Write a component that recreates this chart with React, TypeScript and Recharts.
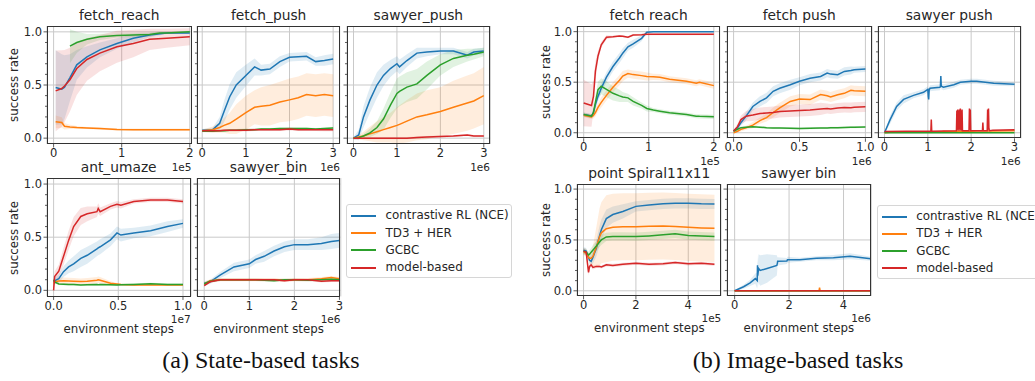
import React from 'react';
import { ComposedChart, Line, Area, XAxis, YAxis, CartesianGrid } from 'recharts';

const METHODS = ['contrastive RL (NCE)', 'TD3 + HER', 'GCBC', 'model-based'];
const COLORS = ['#1f77b4', '#ff7f0e', '#2ca02c', '#d62728'];
const Y_TICKS = [0, 0.1, 0.2, 0.3, 0.4, 0.5, 0.6, 0.7, 0.8, 0.9, 1.0];
const Y_GRID = [0, 0.5, 1.0];
const FONT = '"DejaVu Sans", sans-serif';

// ---------- (a) state-based: fetch_reach (x in 1e5) ----------
const sFetchReachX = [0.03, 0.12, 0.16, 0.24, 0.34, 0.49, 0.68, 0.93, 1.17, 1.41, 1.66, 2.0];
const sFetchReachGcbcX = [0.24, 0.34, 0.49, 0.68, 0.93, 1.17, 1.41, 1.56, 1.66, 2.0];
const sFetchReachMean = [
  [0.476, 0.46, 0.48, 0.57, 0.69, 0.765, 0.83, 0.89, 0.94, 0.97, 0.99, 0.99],
  [0.154, 0.147, 0.112, 0.105, 0.1, 0.095, 0.09, 0.082, 0.08, 0.08, 0.08, 0.08],
  [0.865, 0.9, 0.93, 0.953, 0.966, 0.97, 0.975, 0.99, 0.99, 1.0],
  [0.445, 0.467, 0.49, 0.55, 0.655, 0.74, 0.8, 0.86, 0.89, 0.93, 0.94, 0.953],
];
const sFetchReachSd = [
  [0.35, 0.33, 0.3, 0.22, 0.14, 0.1, 0.07, 0.05, 0.04, 0.02, 0.01, 0.01],
  [0.06, 0.05, 0.03, 0.02, 0.015, 0.01, 0.01, 0.01, 0.01, 0.01, 0.01, 0.01],
  [0.16, 0.1, 0.05, 0.03, 0.02, 0.02, 0.02, 0.01, 0.01, 0.01],
  [0.38, 0.36, 0.34, 0.3, 0.25, 0.2, 0.17, 0.15, 0.13, 0.1, 0.09, 0.08],
];

// ---------- fetch_push (x in 1e6) ----------
const sFetchPushX = [0, 0.24, 0.4, 0.5, 0.63, 0.78, 1.0, 1.2, 1.35, 1.55, 1.78, 2.0, 2.2, 2.39, 2.6, 2.8, 3.0];
const sFetchPushMean = [
  [0.075, 0.08, 0.14, 0.25, 0.39, 0.5, 0.59, 0.67, 0.64, 0.65, 0.72, 0.76, 0.765, 0.77, 0.72, 0.73, 0.745],
  [0.07, 0.08, 0.1, 0.12, 0.14, 0.18, 0.24, 0.29, 0.3, 0.31, 0.34, 0.36, 0.38, 0.41, 0.4, 0.41, 0.4],
  [0.065, 0.065, 0.07, 0.07, 0.075, 0.075, 0.08, 0.08, 0.085, 0.085, 0.09, 0.09, 0.09, 0.09, 0.085, 0.09, 0.095],
  [0.07, 0.07, 0.07, 0.075, 0.075, 0.075, 0.075, 0.08, 0.08, 0.08, 0.08, 0.085, 0.08, 0.08, 0.08, 0.078, 0.078],
];
const sFetchPushSd = [
  [0.01, 0.02, 0.06, 0.1, 0.12, 0.12, 0.1, 0.08, 0.05, 0.05, 0.05, 0.04, 0.04, 0.04, 0.04, 0.05, 0.05],
  [0.01, 0.03, 0.05, 0.07, 0.1, 0.14, 0.16, 0.16, 0.18, 0.19, 0.19, 0.2, 0.2, 0.2, 0.2, 0.2, 0.2],
  [0.01, 0.01, 0.01, 0.01, 0.01, 0.01, 0.01, 0.01, 0.01, 0.01, 0.01, 0.01, 0.01, 0.01, 0.01, 0.01, 0.01],
  [0.012, 0.012, 0.012, 0.012, 0.012, 0.012, 0.012, 0.012, 0.012, 0.012, 0.012, 0.012, 0.012, 0.012, 0.012, 0.012, 0.012],
];

// ---------- sawyer_push (x in 1e6) ----------
const sSawyerPushX = [0, 0.12, 0.23, 0.38, 0.54, 0.69, 0.85, 1.0, 1.06, 1.23, 1.46, 1.69, 2.0, 2.3, 2.62, 2.77, 3.0];
const sSawyerPushMean = [
  [0.0, 0.03, 0.2, 0.36, 0.5, 0.59, 0.655, 0.7, 0.67, 0.73, 0.8, 0.81, 0.82, 0.82, 0.78, 0.81, 0.82],
  [0, 0.01, 0.02, 0.04, 0.06, 0.08, 0.1, 0.12, 0.13, 0.16, 0.2, 0.22, 0.25, 0.29, 0.33, 0.35, 0.4],
  [0.0, 0.005, 0.02, 0.05, 0.1, 0.18, 0.31, 0.42, 0.44, 0.48, 0.51, 0.59, 0.69, 0.75, 0.78, 0.79, 0.81],
  [0, 0, 0, 0, 0, 0, 0, 0, 0, 0, 0.005, 0.01, 0.015, 0.02, 0.03, 0.02, 0.02],
];
const sSawyerPushSd = [
  [0.01, 0.05, 0.1, 0.12, 0.12, 0.1, 0.08, 0.07, 0.07, 0.06, 0.05, 0.04, 0.03, 0.03, 0.03, 0.03, 0.03],
  [0.01, 0.02, 0.04, 0.07, 0.1, 0.12, 0.14, 0.17, 0.18, 0.2, 0.22, 0.23, 0.23, 0.25, 0.26, 0.26, 0.27],
  [0.01, 0.01, 0.02, 0.04, 0.06, 0.1, 0.12, 0.14, 0.14, 0.14, 0.14, 0.13, 0.1, 0.08, 0.06, 0.05, 0.04],
  [0.01, 0.01, 0.01, 0.01, 0.01, 0.01, 0.01, 0.01, 0.01, 0.01, 0.01, 0.01, 0.01, 0.01, 0.01, 0.01, 0.01],
];

// ---------- ant_umaze (x in 1e7) ----------
const sAntUmazeX = [0, 0.008, 0.04, 0.077, 0.116, 0.155, 0.21, 0.26, 0.335, 0.345, 0.36, 0.44, 0.49, 0.52, 0.62, 0.75, 0.88, 1.0];
const sAntUmazeMean = [
  [0.08, 0.09, 0.11, 0.176, 0.22, 0.25, 0.3, 0.33, 0.39, 0.4, 0.41, 0.475, 0.54, 0.52, 0.54, 0.56, 0.6, 0.63],
  [0.066, 0.08, 0.088, 0.09, 0.088, 0.085, 0.082, 0.085, 0.095, 0.1, 0.095, 0.066, 0.06, 0.055, 0.05, 0.05, 0.05, 0.05],
  [0.1, 0.08, 0.06, 0.058, 0.056, 0.055, 0.05, 0.052, 0.054, 0.052, 0.055, 0.052, 0.05, 0.053, 0.056, 0.062, 0.056, 0.056],
  [0.0, 0.13, 0.18, 0.32, 0.47, 0.6, 0.695, 0.72, 0.74, 0.77, 0.74, 0.79, 0.81, 0.8, 0.836, 0.85, 0.85, 0.836],
];
const sAntUmazeSd = [
  [0.03, 0.03, 0.04, 0.05, 0.06, 0.07, 0.08, 0.08, 0.07, 0.07, 0.07, 0.06, 0.06, 0.06, 0.05, 0.05, 0.05, 0.04],
  [0.02, 0.02, 0.03, 0.03, 0.03, 0.03, 0.03, 0.03, 0.03, 0.03, 0.03, 0.02, 0.01, 0.01, 0.01, 0.01, 0.01, 0.01],
  [0.01, 0.01, 0.01, 0.01, 0.01, 0.01, 0.01, 0.01, 0.01, 0.01, 0.01, 0.01, 0.01, 0.01, 0.01, 0.01, 0.01, 0.01],
  [0.02, 0.05, 0.06, 0.08, 0.09, 0.09, 0.08, 0.07, 0.05, 0.05, 0.04, 0.03, 0.03, 0.03, 0.02, 0.02, 0.02, 0.02],
];

// ---------- sawyer_bin (x in 1e6) ----------
const sSawyerBinX = [0, 0.13, 0.36, 0.66, 1.0, 1.14, 1.33, 1.55, 1.78, 2.0, 2.3, 2.6, 2.82, 3.0];
const sSawyerBinMean = [
  [0.066, 0.08, 0.145, 0.22, 0.25, 0.29, 0.32, 0.37, 0.41, 0.43, 0.43, 0.44, 0.46, 0.47],
  [0.06, 0.09, 0.1, 0.1, 0.1, 0.1, 0.1, 0.1, 0.095, 0.1, 0.1, 0.11, 0.12, 0.11],
  [0.06, 0.085, 0.1, 0.1, 0.1, 0.1, 0.095, 0.09, 0.1, 0.1, 0.095, 0.1, 0.105, 0.1],
  [0.045, 0.08, 0.1, 0.1, 0.1, 0.1, 0.1, 0.1, 0.09, 0.1, 0.1, 0.085, 0.09, 0.09],
];
const sSawyerBinSd = [
  [0.02, 0.02, 0.03, 0.04, 0.04, 0.04, 0.05, 0.05, 0.05, 0.05, 0.05, 0.06, 0.07, 0.07],
  [0.015, 0.015, 0.015, 0.015, 0.015, 0.015, 0.015, 0.015, 0.015, 0.015, 0.015, 0.015, 0.015, 0.015],
  [0.012, 0.012, 0.012, 0.012, 0.012, 0.012, 0.012, 0.012, 0.012, 0.012, 0.012, 0.012, 0.012, 0.012],
  [0.012, 0.012, 0.012, 0.012, 0.012, 0.012, 0.012, 0.012, 0.012, 0.012, 0.012, 0.012, 0.012, 0.012],
];

// ---------- (b) image-based: fetch reach (x in 1e5) ----------
const iFetchReachX = [0, 0.12, 0.15, 0.18, 0.22, 0.27, 0.35, 0.45, 0.55, 0.6, 0.68, 0.76, 0.89, 0.97, 1.07, 1.17, 1.32, 1.58, 1.73, 1.78, 2.0];
const iFetchReachMean = [
  [0.18, 0.165, 0.2, 0.28, 0.36, 0.44, 0.55, 0.655, 0.74, 0.787, 0.85, 0.88, 0.934, 0.995, 1.0, 1.0, 1.0, 1.0, 1.0, 1.0, 1.0],
  [0.174, 0.157, 0.17, 0.2, 0.25, 0.3, 0.37, 0.45, 0.52, 0.56, 0.585, 0.575, 0.565, 0.557, 0.553, 0.55, 0.53, 0.51, 0.49, 0.5, 0.466],
  [0.18, 0.164, 0.2, 0.3, 0.426, 0.46, 0.43, 0.39, 0.365, 0.354, 0.345, 0.31, 0.27, 0.24, 0.225, 0.213, 0.197, 0.18, 0.164, 0.162, 0.157],
  [0.295, 0.27, 0.36, 0.61, 0.76, 0.87, 0.945, 0.95, 0.957, 0.955, 0.945, 0.967, 0.97, 0.974, 0.974, 0.974, 0.974, 0.974, 0.974, 0.974, 0.974],
];
const iFetchReachSd = [
  [0.02, 0.02, 0.04, 0.05, 0.05, 0.05, 0.05, 0.05, 0.05, 0.05, 0.04, 0.04, 0.03, 0.01, 0.005, 0.005, 0.005, 0.005, 0.005, 0.005, 0.005],
  [0.02, 0.02, 0.03, 0.04, 0.04, 0.05, 0.05, 0.05, 0.05, 0.05, 0.04, 0.04, 0.04, 0.04, 0.03, 0.03, 0.03, 0.03, 0.03, 0.03, 0.03],
  [0.02, 0.02, 0.04, 0.06, 0.08, 0.08, 0.08, 0.07, 0.06, 0.05, 0.04, 0.04, 0.03, 0.03, 0.02, 0.02, 0.02, 0.02, 0.02, 0.02, 0.02],
  [0.23, 0.21, 0.15, 0.1, 0.05, 0.03, 0.02, 0.01, 0.01, 0.01, 0.01, 0.01, 0.01, 0.01, 0.01, 0.01, 0.01, 0.01, 0.01, 0.01, 0.01],
];

// ---------- fetch push (x in 1e6) ----------
const iFetchPushX = [0, 0.03, 0.056, 0.095, 0.146, 0.2, 0.25, 0.3, 0.35, 0.43, 0.5, 0.58, 0.66, 0.71, 0.736, 0.79, 0.84, 0.89, 0.915, 1.0];
const iFetchPushMean = [
  [0.016, 0.05, 0.1, 0.164, 0.26, 0.31, 0.345, 0.41, 0.44, 0.475, 0.51, 0.54, 0.557, 0.59, 0.58, 0.574, 0.607, 0.615, 0.623, 0.63],
  [0.0, 0.015, 0.033, 0.05, 0.075, 0.12, 0.15, 0.2, 0.246, 0.31, 0.334, 0.328, 0.377, 0.365, 0.354, 0.375, 0.39, 0.42, 0.415, 0.41],
  [0.016, 0.035, 0.05, 0.055, 0.06, 0.055, 0.05, 0.048, 0.046, 0.045, 0.043, 0.045, 0.047, 0.048, 0.05, 0.05, 0.052, 0.054, 0.054, 0.056],
  [0.016, 0.06, 0.13, 0.164, 0.175, 0.19, 0.195, 0.2, 0.21, 0.215, 0.22, 0.225, 0.236, 0.24, 0.235, 0.245, 0.25, 0.248, 0.252, 0.256],
];
const iFetchPushSd = [
  [0.01, 0.02, 0.03, 0.04, 0.04, 0.05, 0.05, 0.05, 0.05, 0.05, 0.04, 0.04, 0.04, 0.04, 0.04, 0.04, 0.04, 0.04, 0.03, 0.03],
  [0.01, 0.01, 0.02, 0.02, 0.03, 0.03, 0.04, 0.05, 0.05, 0.05, 0.05, 0.05, 0.05, 0.05, 0.05, 0.05, 0.05, 0.05, 0.05, 0.05],
  [0.01, 0.01, 0.01, 0.01, 0.01, 0.01, 0.01, 0.01, 0.01, 0.01, 0.01, 0.01, 0.01, 0.01, 0.01, 0.01, 0.01, 0.01, 0.01, 0.01],
  [0.01, 0.03, 0.04, 0.05, 0.06, 0.06, 0.06, 0.06, 0.06, 0.06, 0.06, 0.06, 0.06, 0.05, 0.05, 0.05, 0.05, 0.05, 0.05, 0.05],
];

// ---------- sawyer push (x in 1e6) ----------
const iSawyerPushX = [0, 0.13, 0.28, 0.44, 0.67, 0.9, 1.0, 1.01, 1.02, 1.03, 1.05, 1.28, 1.29, 1.3, 1.31, 1.36, 1.6, 1.75, 2.0, 2.13, 2.52, 3.0];
const iSawyerPushMean = [
  [0, 0.13, 0.26, 0.33, 0.37, 0.4, 0.43, 0.36, 0.33, 0.42, 0.44, 0.45, 0.46, 0.56, 0.46, 0.45, 0.475, 0.5, 0.51, 0.51, 0.49, 0.48],
  [0, 0.005, 0.005, 0.008, 0.008, 0.01, 0.01, 0.01, 0.01, 0.01, 0.01, 0.01, 0.01, 0.01, 0.01, 0.012, 0.012, 0.014, 0.015, 0.016, 0.018, 0.02],
  [0, 0, 0, 0, 0, 0, 0, 0, 0, 0, 0, 0, 0, 0, 0, 0, 0, 0, 0, 0, 0, 0],
];
const iSawyerPushSd = [
  [0.01, 0.04, 0.04, 0.04, 0.03, 0.03, 0.03, 0.03, 0.03, 0.03, 0.03, 0.03, 0.03, 0.03, 0.03, 0.03, 0.03, 0.025, 0.025, 0.025, 0.025, 0.02],
];
const iSawyerPushMbX = [0, 0.5, 1.0, 1.07, 1.08, 1.09, 1.66, 1.67, 1.68, 1.69, 1.7, 1.71, 1.72, 1.73, 1.74, 1.75, 1.76, 1.77, 1.78, 1.79, 1.8, 1.95, 1.96, 1.97, 1.98, 1.99, 2.26, 2.27, 2.28, 2.37, 2.38, 2.39, 2.4, 2.41, 2.42, 2.5, 3.0];
const iSawyerPushMb = [0.012, 0.014, 0.015, 0.015, 0.13, 0.015, 0.02, 0.22, 0.03, 0.23, 0.02, 0.22, 0.04, 0.23, 0.02, 0.24, 0.03, 0.22, 0.02, 0.23, 0.02, 0.02, 0.24, 0.03, 0.23, 0.02, 0.02, 0.1, 0.02, 0.02, 0.23, 0.03, 0.24, 0.04, 0.02, 0.025, 0.03];

// ---------- point Spiral11x11 (x in 1e5) ----------
const iSpiralX = [0, 0.1, 0.19, 0.23, 0.29, 0.36, 0.49, 0.61, 0.68, 0.87, 1.12, 1.5, 2.0, 2.5, 3.04, 3.5, 4.0, 4.5, 5.0];
const iSpiralMean = [
  [0.4, 0.39, 0.33, 0.3, 0.29, 0.33, 0.42, 0.54, 0.6, 0.71, 0.75, 0.78, 0.83, 0.843, 0.855, 0.86, 0.86, 0.855, 0.853],
  [0.38, 0.37, 0.33, 0.32, 0.32, 0.34, 0.43, 0.53, 0.57, 0.61, 0.625, 0.63, 0.63, 0.635, 0.637, 0.632, 0.624, 0.618, 0.614],
  [0.39, 0.38, 0.353, 0.36, 0.38, 0.4, 0.44, 0.48, 0.5, 0.53, 0.535, 0.535, 0.533, 0.54, 0.55, 0.56, 0.543, 0.538, 0.533],
  [0.39, 0.38, 0.18, 0.24, 0.255, 0.23, 0.24, 0.24, 0.235, 0.255, 0.25, 0.26, 0.27, 0.26, 0.265, 0.278, 0.265, 0.27, 0.26],
];
const iSpiralSd = [
  [0.03, 0.03, 0.03, 0.04, 0.05, 0.06, 0.08, 0.1, 0.1, 0.09, 0.08, 0.07, 0.05, 0.05, 0.05, 0.05, 0.05, 0.05, 0.05],
  [0.03, 0.03, 0.04, 0.05, 0.06, 0.1, 0.2, 0.28, 0.3, 0.33, 0.33, 0.33, 0.33, 0.33, 0.33, 0.33, 0.33, 0.33, 0.33],
  [0.03, 0.03, 0.03, 0.04, 0.04, 0.05, 0.05, 0.05, 0.05, 0.04, 0.04, 0.04, 0.04, 0.04, 0.04, 0.04, 0.04, 0.04, 0.04],
  [0.03, 0.03, 0.03, 0.02, 0.02, 0.02, 0.015, 0.015, 0.015, 0.015, 0.015, 0.015, 0.015, 0.015, 0.015, 0.015, 0.015, 0.015, 0.015],
];

// ---------- sawyer bin (x in 1e6) ----------
const iSawyerBinX = [0, 0.33, 0.57, 0.76, 0.83, 0.84, 0.85, 0.88, 0.94, 1.19, 1.55, 1.57, 1.58, 1.92, 1.94, 2.4, 3.0, 3.63, 4.24, 5.0];
const iSawyerBinNce = [0.0, 0.04, 0.078, 0.12, 0.1, 0.25, 0.15, 0.22, 0.2, 0.22, 0.25, 0.27, 0.29, 0.293, 0.306, 0.306, 0.32, 0.326, 0.34, 0.316];
const iSawyerBinNceSd = [0.005, 0.02, 0.03, 0.05, 0.08, 0.1, 0.12, 0.14, 0.15, 0.14, 0.1, 0.06, 0.04, 0.03, 0.03, 0.02, 0.02, 0.025, 0.03, 0.02];
const iSawyerBinTd3X = [0, 3.1, 3.12, 3.14, 5.0];
const iSawyerBinTd3 = [0, 0, 0.03, 0, 0];
const iSawyerBinFlatX = [0, 5.0];
const iSawyerBinFlat = [0, 0];

type Series = { x: number[]; mean: number[]; sd?: number[] };
type PlotDef = {
  title: string;
  left: number; top: number; w: number; h: number;
  xDom: [number, number]; yDom: [number, number];
  xTicks: number[]; xTickLabels: string[];
  yLabels: boolean; xLabel: boolean; offset: string;
  series: Series[];
};

const same = (x: number[], mean: number[][], sd: number[][]): Series[] =>
  mean.map((m, i) => ({ x, mean: m, sd: sd[i] }));

const PLOTS: PlotDef[] = [
  {
    title: 'fetch_reach', left: 47, top: 26, w: 144.5, h: 118,
    xDom: [-0.097, 2.025], yDom: [-0.055, 1.055], xTicks: [0, 1, 2], xTickLabels: ['0', '1', '2'],
    yLabels: true, xLabel: false, offset: '1e5',
    series: [
      { x: sFetchReachX, mean: sFetchReachMean[0], sd: sFetchReachSd[0] },
      { x: sFetchReachX, mean: sFetchReachMean[1], sd: sFetchReachSd[1] },
      { x: sFetchReachGcbcX, mean: sFetchReachMean[2], sd: sFetchReachSd[2] },
      { x: sFetchReachX, mean: sFetchReachMean[3], sd: sFetchReachSd[3] },
    ],
  },
  {
    title: 'fetch_push', left: 197.3, top: 26, w: 142.7, h: 118,
    xDom: [-0.12, 3.15], yDom: [-0.055, 1.055], xTicks: [0, 1, 2, 3], xTickLabels: ['0', '1', '2', '3'],
    yLabels: false, xLabel: false, offset: '1e6',
    series: same(sFetchPushX, sFetchPushMean, sFetchPushSd),
  },
  {
    title: 'sawyer_push', left: 346.7, top: 26, w: 143.3, h: 118,
    xDom: [-0.15, 3.15], yDom: [-0.055, 1.055], xTicks: [0, 1, 2, 3], xTickLabels: ['0', '1', '2', '3'],
    yLabels: false, xLabel: false, offset: '1e6',
    series: same(sSawyerPushX, sSawyerPushMean, sSawyerPushSd),
  },
  {
    title: 'ant_umaze', left: 46.7, top: 178.3, w: 144, h: 118.4,
    xDom: [-0.051, 1.062], yDom: [-0.057, 1.057], xTicks: [0, 0.5, 1], xTickLabels: ['0.0', '0.5', '1.0'],
    yLabels: true, xLabel: true, offset: '1e7',
    series: same(sAntUmazeX, sAntUmazeMean, sAntUmazeSd),
  },
  {
    title: 'sawyer_bin', left: 196.7, top: 178.3, w: 143.8, h: 118.4,
    xDom: [-0.16, 3.03], yDom: [-0.057, 1.057], xTicks: [0, 1, 2, 3], xTickLabels: ['0', '1', '2', '3'],
    yLabels: false, xLabel: true, offset: '1e6',
    series: same(sSawyerBinX, sSawyerBinMean, sSawyerBinSd),
  },
  {
    title: 'fetch reach', left: 577.3, top: 26, w: 142.7, h: 112.3,
    xDom: [-0.103, 2.09], yDom: [-0.055, 1.056], xTicks: [0, 1, 2], xTickLabels: ['0', '1', '2'],
    yLabels: true, xLabel: false, offset: '1e5',
    series: same(iFetchReachX, iFetchReachMean, iFetchReachSd),
  },
  {
    title: 'fetch push', left: 726.7, top: 26, w: 145, h: 112.3,
    xDom: [-0.05, 1.05], yDom: [-0.055, 1.056], xTicks: [0, 0.5, 1], xTickLabels: ['0.0', '0.5', '1.0'],
    yLabels: false, xLabel: false, offset: '1e6',
    series: same(iFetchPushX, iFetchPushMean, iFetchPushSd),
  },
  {
    title: 'sawyer push', left: 877.7, top: 26, w: 143, h: 112.3,
    xDom: [-0.15, 3.15], yDom: [-0.055, 1.056], xTicks: [0, 1, 2, 3], xTickLabels: ['0', '1', '2', '3'],
    yLabels: false, xLabel: false, offset: '1e6',
    series: [
      { x: iSawyerPushX, mean: iSawyerPushMean[0], sd: iSawyerPushSd[0] },
      { x: iSawyerPushX, mean: iSawyerPushMean[1] },
      { x: iSawyerPushX, mean: iSawyerPushMean[2] },
      { x: iSawyerPushMbX, mean: iSawyerPushMb },
    ],
  },
  {
    title: 'point Spiral11x11', left: 577.3, top: 183.8, w: 144, h: 111.9,
    xDom: [-0.25, 5.25], yDom: [-0.05, 1.05], xTicks: [0, 2, 4], xTickLabels: ['0', '2', '4'],
    yLabels: true, xLabel: true, offset: '1e5',
    series: same(iSpiralX, iSpiralMean, iSpiralSd),
  },
  {
    title: 'sawyer bin', left: 726.7, top: 183.8, w: 144.3, h: 111.9,
    xDom: [-0.28, 5.02], yDom: [-0.05, 1.05], xTicks: [0, 2, 4], xTickLabels: ['0', '2', '4'],
    yLabels: false, xLabel: true, offset: '1e6',
    series: [
      { x: iSawyerBinX, mean: iSawyerBinNce, sd: iSawyerBinNceSd },
      { x: iSawyerBinTd3X, mean: iSawyerBinTd3 },
      { x: iSawyerBinFlatX, mean: iSawyerBinFlat },
      { x: iSawyerBinFlatX, mean: iSawyerBinFlat },
    ],
  },
];

const Y_W = 40;
const TOP_PAD = 6;
const RIGHT_PAD = 6;
const X_H = 22;
const SPINE = '#333333';
const TEXT = '#262626';
const TICK_FS = 11.5;

function YTick(props: any) {
  const { x, y, payload, showLabel } = props;
  const v = payload.value as number;
  const major = Y_GRID.some((g) => Math.abs(g - v) < 1e-6);
  return (
    <g>
      <line x1={x - (major ? 3.5 : 2)} x2={x} y1={y} y2={y} stroke={SPINE} strokeWidth={0.8} />
      {major && showLabel && (
        <text x={x - 5} y={y} dy="0.35em" textAnchor="end" fontSize={TICK_FS} fill={TEXT} fontFamily={FONT}>
          {v.toFixed(1)}
        </text>
      )}
    </g>
  );
}

function Subplot({ p }: { p: PlotDef }) {
  const width = p.w + Y_W + RIGHT_PAD;
  const height = p.h + TOP_PAD + X_H;
  const bottom = p.top + p.h;
  const rows = p.series.map((s) =>
    s.x.map((x, i) => ({
      x,
      m: s.mean[i],
      band: s.sd ? [s.mean[i] - s.sd[i], s.mean[i] + s.sd[i]] : null,
    }))
  );
  return (
    <>
      <div style={{ position: 'absolute', left: p.left - Y_W, top: p.top - TOP_PAD }}>
        <ComposedChart width={width} height={height} margin={{ top: TOP_PAD, right: RIGHT_PAD, left: 0, bottom: 0 }}>
          <CartesianGrid stroke="#c9c9c9" strokeWidth={1} horizontalValues={Y_GRID} />
          <XAxis
            type="number"
            dataKey="x"
            domain={p.xDom}
            ticks={p.xTicks}
            allowDataOverflow
            interval={0}
            axisLine={false}
            tickSize={3.5}
            tickMargin={1.5}
            tickLine={{ stroke: SPINE, strokeWidth: 0.8 }}
            tick={{ fontSize: TICK_FS, fill: TEXT, fontFamily: FONT }}
            tickFormatter={(v: number) => p.xTickLabels[p.xTicks.indexOf(v)] ?? ''}
            height={X_H}
          />
          <YAxis
            type="number"
            domain={p.yDom}
            ticks={Y_TICKS}
            allowDataOverflow
            interval={0}
            axisLine={false}
            tickLine={false}
            tickSize={0}
            tickMargin={0}
            width={Y_W}
            tick={(tp: any) => <YTick {...tp} showLabel={p.yLabels} />}
          />
          {rows.map((r, i) =>
            p.series[i].sd ? (
              <Area
                key={`band-${i}`}
                data={r}
                dataKey="band"
                type="linear"
                stroke="none"
                fill={COLORS[i]}
                fillOpacity={0.14}
                isAnimationActive={false}
              />
            ) : null
          )}
          {rows.map((r, i) => (
            <Line
              key={`line-${i}`}
              data={r}
              dataKey="m"
              type="linear"
              stroke={COLORS[i]}
              strokeWidth={1.5}
              dot={false}
              isAnimationActive={false}
            />
          ))}
        </ComposedChart>
      </div>
      <div
        style={{
          position: 'absolute', left: p.left, top: p.top, width: p.w, height: p.h,
          border: `1px solid ${SPINE}`, boxSizing: 'border-box', pointerEvents: 'none',
        }}
      />
      <div
        style={{
          position: 'absolute', left: p.left - 20, width: p.w + 40, top: p.top - 19, height: 16,
          lineHeight: '16px', textAlign: 'center', fontSize: 13.8, color: TEXT, whiteSpace: 'nowrap',
        }}
      >
        {p.title}
      </div>
      <div
        style={{
          position: 'absolute', left: p.left + p.w - 40, width: 40, top: bottom + 15.5, height: 14,
          lineHeight: '14px', textAlign: 'right', fontSize: 10.5, color: TEXT,
        }}
      >
        {p.offset}
      </div>
      {p.xLabel && (
        <div
          style={{
            position: 'absolute', left: p.left - 20, width: p.w + 40, top: bottom + 24, height: 16,
            lineHeight: '16px', textAlign: 'center', fontSize: 11.8, color: TEXT, whiteSpace: 'nowrap',
          }}
        >
          environment steps
        </div>
      )}
      {p.yLabels && (
        <div
          style={{
            position: 'absolute', left: (p.left < 300 ? 14 : 546) - 50, width: 100,
            top: p.top + p.h / 2 - 8, height: 16, lineHeight: '16px', textAlign: 'center',
            fontSize: 11.8, color: TEXT, transform: 'rotate(-90deg)', whiteSpace: 'nowrap',
          }}
        >
          success rate
        </div>
      )}
    </>
  );
}

function LegendBox({ left, top }: { left: number; top: number }) {
  return (
    <div
      style={{
        position: 'absolute', left, top, width: 166, height: 74, boxSizing: 'border-box',
        border: '1px solid #d6d6d6', borderRadius: 3, background: 'rgba(255,255,255,0.9)',
      }}
    >
      {METHODS.map((m, i) => (
        <div key={m} style={{ position: 'absolute', left: 0, top: 2 + i * 17.3, height: 17, width: 200 }}>
          <div style={{ position: 'absolute', left: 4, top: 7.5, width: 25, height: 2, background: COLORS[i] }} />
          <div
            style={{
              position: 'absolute', left: 38.5, top: 0, height: 17, lineHeight: '17px',
              fontSize: 11.9, color: TEXT, whiteSpace: 'nowrap',
            }}
          >
            {m}
          </div>
        </div>
      ))}
    </div>
  );
}

const CAPTIONS = [
  { text: '(a) State-based tasks', cx: 261 },
  { text: '(b) Image-based tasks', cx: 798 },
];

export default function App() {
  return (
    <div
      style={{
        position: 'absolute', left: 0, top: 0, width: 1035, height: 381, overflow: 'hidden',
        background: '#ffffff', fontFamily: FONT,
      }}
    >
      {PLOTS.map((p) => (
        <Subplot key={p.title} p={p} />
      ))}
      <LegendBox left={346} top={204.3} />
      <LegendBox left={876.7} top={205} />
      {CAPTIONS.map((c) => (
        <div
          key={c.text}
          style={{
            position: 'absolute', left: c.cx - 150, width: 300, top: 345, height: 30, lineHeight: '30px',
            textAlign: 'center', fontFamily: '"Liberation Serif", "Times New Roman", serif', fontSize: 24,
            color: '#111',
          }}
        >
          {c.text}
        </div>
      ))}
    </div>
  );
}
